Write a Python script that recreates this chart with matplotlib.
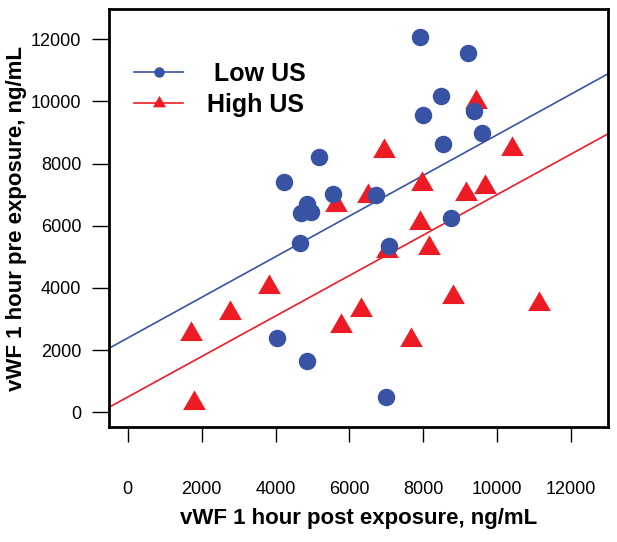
import matplotlib.pyplot as plt
import numpy as np

plt.rcParams['font.family'] = ['Liberation Sans', 'DejaVu Sans']

# Low US (blue circles)
low_x = [7911, 9210, 8471, 7983, 9372, 9597, 8542, 5186, 4230, 5565,
         6720, 4844, 4690, 4961, 8741, 4663, 7080, 4049, 4861, 6991]
low_y = [12084, 11550, 10176, 9565, 9693, 8996, 8632, 8223, 7409, 7023,
         6991, 6701, 6401, 6454, 6241, 5437, 5350, 2381, 1650, 502]

# High US (red triangles)
high_x = [9426, 6937, 10392, 7956, 9147, 9679, 6512, 5637, 7911, 8154,
          7018, 3833, 8813, 11140, 2769, 6314, 5773, 1705, 7659, 1803]
high_y = [9990, 8410, 8470, 7340, 7020, 7235, 6945, 6655, 6105, 5280,
          5200, 4035, 3715, 3480, 3200, 3300, 2770, 2535, 2320, 295]

# fitted lines (intercept, slope)
low_fit = (2390, 0.654)
high_fit = (491, 0.6515)

labels = [' Low US', 'High US']
ticks = [0, 2000, 4000, 6000, 8000, 10000, 12000]

blue = '#3953A4'
red = '#ED1C24'
tri = [(-1, -0.577), (1, -0.577), (0, 1.155)]

fig = plt.figure(figsize=(6.17, 5.42), dpi=100)
ax = fig.add_axes([0.1767, 0.2116, 0.8083, 0.7718])

ax.axline((0, low_fit[0]), slope=low_fit[1], color=blue, lw=1.2, zorder=1)
ax.axline((0, high_fit[0]), slope=high_fit[1], color=red, lw=1.2, zorder=1)
ax.plot(low_x, low_y, 'o', color=blue, ms=12.6, mec='none', zorder=3)
ax.plot(high_x, high_y, ls='none', marker=tri, color=red, ms=18.9,
        mec='none', zorder=2)

h1, = ax.plot([], [], '-o', color=blue, lw=1.2, ms=7.5, mec='none')
h2, = ax.plot([], [], '-', marker=tri, color=red, lw=1.2, ms=11, mec='none')
leg = ax.legend([h1, h2], labels, loc='upper left', bbox_to_anchor=(0.026, 0.904),
                frameon=False, borderpad=0, handlelength=1.95,
                handletextpad=0.95, labelspacing=0.3,
                prop={'weight': 'bold', 'size': 18})

ax.set_xlim(-506, 12990)
ax.set_ylim(-483, 12975)
ax.set_xticks(ticks)
ax.set_yticks(ticks)
ax.tick_params(axis='x', length=11, width=1, pad=28, labelsize=13)
ax.tick_params(axis='y', length=12, width=1, pad=8, labelsize=13)
for s in ax.spines.values():
    s.set_linewidth(2)

ax.set_xlabel('vWF 1 hour post exposure, ng/mL', fontsize=16, fontweight='bold',
              labelpad=7)
ax.set_ylabel('vWF 1 hour pre exposure, ng/mL', fontsize=16, fontweight='bold',
              labelpad=3)

fig.savefig('out.png')
